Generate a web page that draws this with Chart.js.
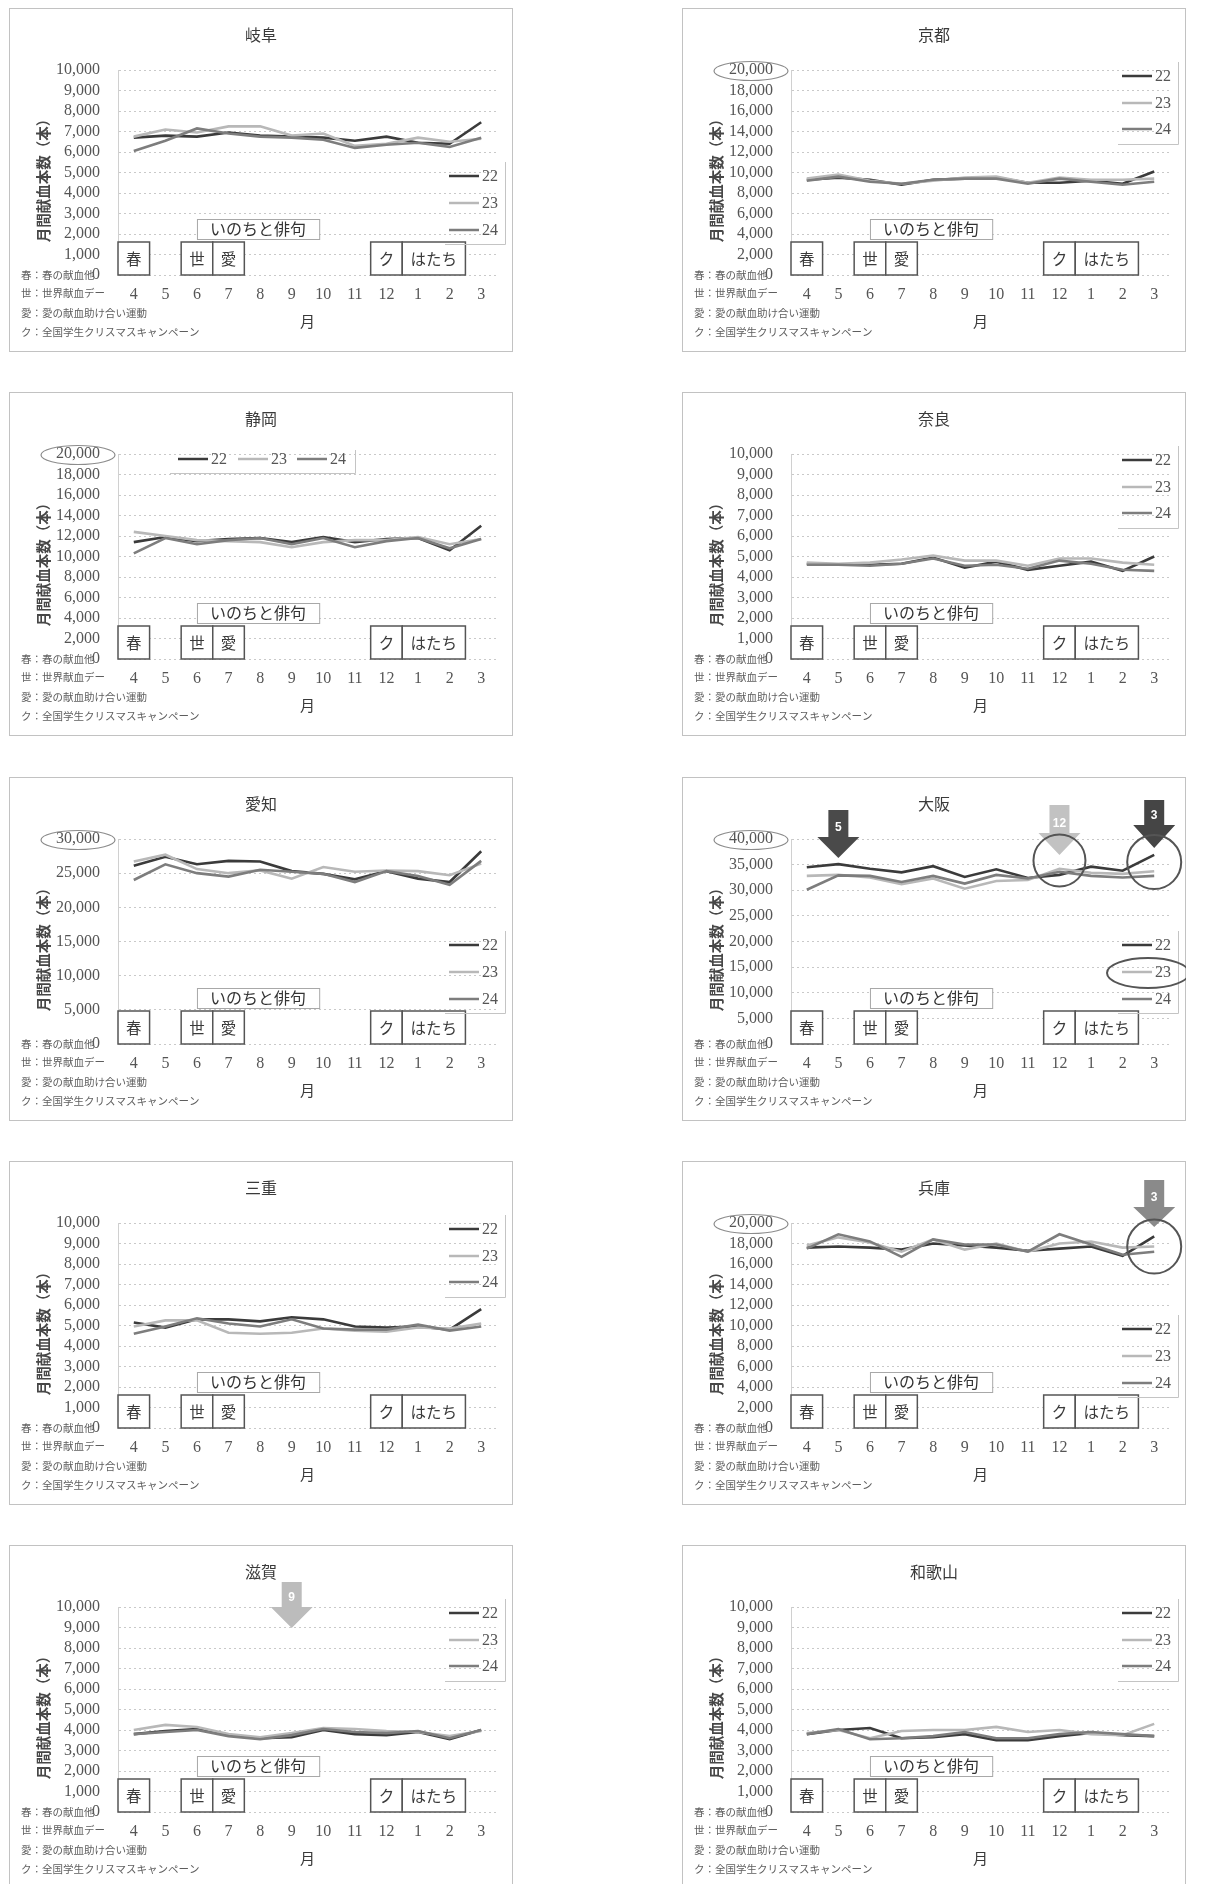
<!DOCTYPE html>
<html lang="ja">
<head>
<meta charset="utf-8">
<title>月間献血本数</title>
<script src="https://cdn.jsdelivr.net/npm/chart.js@4.4.1/dist/chart.umd.min.js"></script>
<style>
  html, body { margin: 0; padding: 0; background: #fff; }
  body { width: 1206px; height: 1884px; position: relative; overflow: hidden; }
  .panel { position: absolute; box-sizing: border-box; border: 1px solid #c2c2c2; background: #fff; }
  .panel canvas { position: absolute; left: -1px; top: -1px; }
</style>
</head>
<body>
<script>
// ---- data ---------------------------------------------------------------
const months = ['4', '5', '6', '7', '8', '9', '10', '11', '12', '1', '2', '3'];
const years = ['22', '23', '24'];

const gifu22 = [6700, 6800, 6750, 6950, 6800, 6750, 6700, 6550, 6750, 6450, 6400, 7450];
const gifu23 = [6750, 7100, 6950, 7250, 7250, 6800, 6900, 6300, 6400, 6700, 6500, 6650];
const gifu24 = [6050, 6550, 7150, 6900, 6750, 6700, 6600, 6200, 6350, 6450, 6250, 6700];

const kyoto22 = [9300, 9500, 9300, 8800, 9300, 9400, 9500, 9000, 9000, 9200, 8900, 10100];
const kyoto23 = [9400, 9800, 9200, 8900, 9200, 9500, 9600, 9000, 9500, 9300, 9300, 9400];
const kyoto24 = [9200, 9600, 9100, 8900, 9300, 9400, 9400, 8900, 9400, 9100, 8800, 9100];

const shizuoka22 = [11400, 11900, 11500, 11700, 11800, 11400, 11900, 11400, 11700, 11800, 10600, 13000];
const shizuoka23 = [12400, 12000, 11600, 11500, 11400, 10900, 11400, 11600, 11600, 11900, 11200, 11700];
const shizuoka24 = [10300, 11800, 11200, 11600, 11800, 11200, 11800, 10900, 11500, 11800, 10800, 11700];

const nara22 = [4650, 4600, 4600, 4650, 4950, 4450, 4750, 4350, 4550, 4750, 4300, 5000];
const nara23 = [4700, 4650, 4700, 4850, 5050, 4800, 4800, 4550, 4900, 4900, 4700, 4600];
const nara24 = [4600, 4600, 4550, 4650, 4900, 4550, 4600, 4400, 4800, 4650, 4350, 4300];

const aichi22 = [26100, 27400, 26300, 26800, 26700, 25300, 24900, 24100, 25300, 24200, 23700, 28200];
const aichi23 = [26700, 27700, 25600, 25000, 25400, 24200, 25900, 25200, 25400, 25300, 24700, 26400];
const aichi24 = [24000, 26300, 25000, 24500, 25500, 25200, 24900, 23700, 25300, 24600, 23300, 26800];

const osaka22 = [34500, 35100, 34200, 33500, 34700, 32600, 34100, 32400, 33000, 34600, 33800, 36900];
const osaka23 = [32800, 33000, 32500, 31200, 32300, 30300, 31800, 32000, 34200, 33400, 33200, 33700];
const osaka24 = [30100, 32900, 32800, 31600, 32800, 31300, 33000, 32300, 33600, 32800, 32500, 32800];

const mie22 = [5150, 4900, 5300, 5300, 5200, 5400, 5300, 4950, 4900, 4950, 4800, 5800];
const mie23 = [4950, 5250, 5250, 4650, 4600, 4650, 4850, 4750, 4700, 4900, 4850, 5100];
const mie24 = [4600, 4950, 5350, 5100, 4950, 5300, 4850, 4800, 4800, 5050, 4750, 4950];

const hyogo22 = [17600, 17700, 17600, 17400, 18000, 17800, 17600, 17300, 17500, 17700, 16800, 18700];
const hyogo23 = [17800, 18600, 18100, 17200, 18400, 17400, 18000, 17200, 18000, 18200, 17600, 17700];
const hyogo24 = [17500, 18900, 18200, 16700, 18400, 17900, 17900, 17200, 18900, 17900, 16900, 17200];

const shiga22 = [3800, 3950, 4050, 3750, 3600, 3650, 4000, 3800, 3750, 3900, 3550, 4000];
const shiga23 = [4000, 4250, 4150, 3800, 3650, 3850, 4100, 4050, 3950, 3900, 3700, 3950];
const shiga24 = [3800, 3900, 4000, 3700, 3550, 3750, 4050, 3900, 3850, 3950, 3600, 4000];

const wakayama22 = [3800, 4000, 4100, 3600, 3650, 3800, 3500, 3500, 3700, 3850, 3750, 3700];
const wakayama23 = [3850, 4000, 3600, 3950, 4000, 4000, 4150, 3900, 4000, 3800, 3750, 4300];
const wakayama24 = [3800, 4050, 3550, 3600, 3700, 3900, 3600, 3600, 3800, 3900, 3800, 3700];

// y-axis ranges (max, step) per prefecture
const prefNames = ['岐阜', '京都', '静岡', '奈良', '愛知', '大阪', '三重', '兵庫', '滋賀', '和歌山'];
const axisMax  = [10000, 20000, 20000, 10000, 30000, 40000, 10000, 20000, 10000, 10000];
const axisStep = [1000, 2000, 2000, 1000, 5000, 5000, 1000, 2000, 1000, 1000];

// campaign markers along the month axis
const eventLabels = ['春', '世', '愛', 'ク', 'はたち'];
const eventStart  = [0, 2, 3, 8, 9];   // first month index covered
const eventEnd    = [0, 2, 3, 8, 10];  // last month index covered
const haikuLabel = 'いのちと俳句';
const footnotes = ['春：春の献血他', '世：世界献血デー', '愛：愛の献血助け合い運動', 'ク：全国学生クリスマスキャンペーン'];
const yTitle = '月間献血本数（本）';
const xTitle = '月';

// ---- layout & styles ----------------------------------------------------
const PW = 504, PH = 344;
const colX = [9, 682];
const rowY = [8, 392, 777, 1161, 1545];
const AREA = { left: 109, right: 488, top: 62, bottom: 267 };
const SERIF = '"Liberation Serif", "DejaVu Serif", serif';
const CJK = '"Noto Sans CJK JP", "Noto Sans", sans-serif';
const lineColors = ['#3b3b3b', '#b8b8b8', '#7d7d7d'];

const seriesByPanel = [
  [gifu22, gifu23, gifu24], [kyoto22, kyoto23, kyoto24],
  [shizuoka22, shizuoka23, shizuoka24], [nara22, nara23, nara24],
  [aichi22, aichi23, aichi24], [osaka22, osaka23, osaka24],
  [mie22, mie23, mie24], [hyogo22, hyogo23, hyogo24],
  [shiga22, shiga23, shiga24], [wakayama22, wakayama23, wakayama24]
];
const legendMode = ['mid', 'top', 'row', 'top', 'mid', 'mid', 'top', 'mid', 'top', 'top'];
const circledTopTick = [false, true, true, false, true, true, false, true, false, false];

// call-out arrows: month index, colour, label, pixel top / head start / tip
const arrowsByPanel = {
  5: [
    { m: 1, color: '#4a4a4a', text: '5', top: 33, head: 60, tip: 81 },
    { m: 8, color: '#c2c2c2', text: '12', top: 28, head: 56, tip: 78 },
    { m: 11, color: '#454545', text: '3', top: 23, head: 48, tip: 71 }
  ],
  7: [ { m: 11, color: '#8a8a8a', text: '3', top: 19, head: 46, tip: 66 } ],
  8: [ { m: 5, color: '#bcbcbc', text: '9', top: 37, head: 62, tip: 83 } ]
};
// highlight rings: month index, value at centre, radius
const ringsByPanel = {
  5: [ { m: 8, v: 35800, r: 26 }, { m: 11, v: 35500, r: 27 } ],
  7: [ { m: 11, v: 17700, r: 27 } ]
};

function drawArrow(ctx, cx, a) {
  const sw = 10, hw = 21;
  ctx.fillStyle = a.color;
  ctx.beginPath();
  ctx.moveTo(cx - sw, a.top);
  ctx.lineTo(cx + sw, a.top);
  ctx.lineTo(cx + sw, a.head);
  ctx.lineTo(cx + hw, a.head);
  ctx.lineTo(cx, a.tip);
  ctx.lineTo(cx - hw, a.head);
  ctx.lineTo(cx - sw, a.head);
  ctx.closePath();
  ctx.fill();
  ctx.fillStyle = '#fff';
  ctx.font = 'bold 12px ' + '"Liberation Sans", sans-serif';
  ctx.textAlign = 'center';
  ctx.textBaseline = 'middle';
  ctx.fillText(a.text, cx, a.head - 9);
}

function makeDecor(idx) {
  return {
    id: 'decor' + idx,
    afterDatasetsDraw(chart) {
      const { ctx, chartArea: ca, scales: { x, y } } = chart;
      const step = x.getPixelForValue(1) - x.getPixelForValue(0);
      ctx.save();

      // panel title
      ctx.fillStyle = '#3a3a3a';
      ctx.font = '16px ' + CJK;
      ctx.textAlign = 'center';
      ctx.textBaseline = 'middle';
      ctx.fillText(prefNames[idx], PW / 2, 27);

      // axis titles
      ctx.save();
      ctx.translate(34, 169);
      ctx.rotate(-Math.PI / 2);
      ctx.font = 'bold 14.5px ' + CJK;
      ctx.fillStyle = '#474747';
      ctx.fillText(yTitle, 0, 0);
      ctx.restore();
      ctx.font = '15px ' + CJK;
      ctx.fillStyle = '#3a3a3a';
      ctx.fillText(xTitle, (ca.left + ca.right) / 2, 313);

      // footnotes
      ctx.textAlign = 'left';
      ctx.font = '10.5px ' + CJK;
      ctx.fillStyle = '#5e5e5e';
      const fy = [267, 285, 305, 324];
      footnotes.forEach((t, i) => ctx.fillText(t, 12, fy[i]));

      // haiku campaign box
      const hx0 = x.getPixelForValue(2), hx1 = x.getPixelForValue(5) + step * 0.87;
      ctx.fillStyle = '#fff';
      ctx.fillRect(hx0, ca.bottom - 56, hx1 - hx0, 20);
      ctx.strokeStyle = '#a8a8a8';
      ctx.lineWidth = 1;
      ctx.strokeRect(hx0 + 0.5, ca.bottom - 55.5, hx1 - hx0, 20);
      ctx.fillStyle = '#333';
      ctx.font = '16px ' + CJK;
      ctx.textAlign = 'center';
      ctx.fillText(haikuLabel, (hx0 + hx1) / 2, ca.bottom - 46);

      // monthly event boxes
      eventLabels.forEach((t, i) => {
        const bx0 = x.getPixelForValue(eventStart[i]) - step / 2;
        const bx1 = x.getPixelForValue(eventEnd[i]) + step / 2;
        ctx.fillStyle = '#fff';
        ctx.fillRect(bx0, ca.bottom - 33, bx1 - bx0, 33);
        ctx.strokeStyle = '#555';
        ctx.lineWidth = 1.5;
        ctx.strokeRect(bx0, ca.bottom - 33, bx1 - bx0, 33);
        ctx.fillStyle = '#3a3a3a';
        ctx.font = '15.5px ' + CJK;
        ctx.fillText(t, (bx0 + bx1) / 2, ca.bottom - 16);
      });

      // legend
      const mode = legendMode[idx];
      ctx.font = '16px ' + SERIF;
      ctx.textAlign = 'left';
      ctx.lineWidth = 2.5;
      if (mode === 'row') {
        const lx = [169, 229, 288];
        years.forEach((t, i) => {
          ctx.strokeStyle = lineColors[i];
          ctx.beginPath(); ctx.moveTo(lx[i], 67); ctx.lineTo(lx[i] + 30, 67); ctx.stroke();
          ctx.fillStyle = '#555';
          ctx.fillText(t, lx[i] + 33, 68);
        });
        ctx.strokeStyle = '#c4c4c4'; ctx.lineWidth = 1;
        ctx.beginPath(); ctx.moveTo(161, 81.5); ctx.lineTo(346.5, 81.5); ctx.lineTo(346.5, 58); ctx.stroke();
      } else {
        const ly = mode === 'mid' ? [168, 195, 222] : [68, 95, 121];
        years.forEach((t, i) => {
          ctx.strokeStyle = lineColors[i];
          ctx.beginPath(); ctx.moveTo(440, ly[i]); ctx.lineTo(470, ly[i]); ctx.stroke();
          ctx.fillStyle = '#555';
          ctx.fillText(t, 473, ly[i] + 1);
        });
        const fb = mode === 'mid' ? 236 : 136, ft = mode === 'mid' ? 154 : 54;
        ctx.strokeStyle = '#c4c4c4'; ctx.lineWidth = 1;
        ctx.beginPath(); ctx.moveTo(436, fb + 0.5); ctx.lineTo(496.5, fb + 0.5); ctx.lineTo(496.5, ft); ctx.stroke();
      }

      // ring around the top tick label
      if (circledTopTick[idx]) {
        ctx.strokeStyle = '#8c8c8c';
        ctx.lineWidth = 1.2;
        ctx.beginPath();
        ctx.ellipse(69, y.getPixelForValue(axisMax[idx]) + 1, 37, 9.5, 0, 0, Math.PI * 2);
        ctx.stroke();
      }

      // call-out arrows and rings
      (arrowsByPanel[idx] || []).forEach(a => drawArrow(ctx, x.getPixelForValue(a.m), a));
      (ringsByPanel[idx] || []).forEach(r => {
        ctx.strokeStyle = '#555';
        ctx.lineWidth = 2;
        ctx.beginPath();
        ctx.arc(x.getPixelForValue(r.m), y.getPixelForValue(r.v), r.r, 0, Math.PI * 2);
        ctx.stroke();
      });
      if (idx === 5) {
        ctx.strokeStyle = '#555';
        ctx.lineWidth = 2;
        ctx.beginPath();
        ctx.ellipse(466, 196, 41, 15, 0, 0, Math.PI * 2);
        ctx.stroke();
      }
      ctx.restore();
    }
  };
}

seriesByPanel.forEach((series, idx) => {
  const div = document.createElement('div');
  div.className = 'panel';
  div.style.left = colX[idx % 2] + 'px';
  div.style.top = rowY[Math.floor(idx / 2)] + 'px';
  div.style.width = PW + 'px';
  div.style.height = PH + 'px';
  const cv = document.createElement('canvas');
  cv.width = PW; cv.height = PH;
  cv.style.width = PW + 'px'; cv.style.height = PH + 'px';
  div.appendChild(cv);
  document.body.appendChild(div);

  const XH = 30;
  new Chart(cv, {
    type: 'line',
    data: {
      labels: months,
      datasets: series.map((vals, i) => ({
        label: years[i],
        data: vals,
        borderColor: lineColors[i],
        backgroundColor: lineColors[i],
        borderWidth: 2.6,
        pointRadius: 0,
        tension: 0,
        order: 2 - i
      }))
    },
    options: {
      responsive: false,
      animation: false,
      devicePixelRatio: 1,
      layout: { padding: { left: 0, top: AREA.top, right: PW - AREA.right, bottom: PH - AREA.bottom - XH } },
      plugins: { legend: { display: false }, title: { display: false }, tooltip: { enabled: false } },
      scales: {
        x: {
          offset: true,
          grid: { display: false, drawTicks: false },
          border: { display: false },
          ticks: { font: { family: SERIF, size: 16 }, color: '#555', padding: 10, maxRotation: 0, autoSkip: false },
          afterFit(s) { s.height = XH; }
        },
        y: {
          min: 0,
          max: axisMax[idx],
          grid: { color: '#c9c9c9', lineWidth: 1, drawTicks: false },
          border: { display: true, color: '#d0d0d0', dash: [2, 3] },
          ticks: {
            stepSize: axisStep[idx],
            autoSkip: false,
            font: { family: SERIF, size: 16 },
            color: '#555',
            padding: 18,
            callback: v => Number(v).toLocaleString('en-US')
          },
          afterFit(s) { s.width = AREA.left; }
        }
      }
    },
    plugins: [makeDecor(idx)]
  });
});
</script>
</body>
</html>
